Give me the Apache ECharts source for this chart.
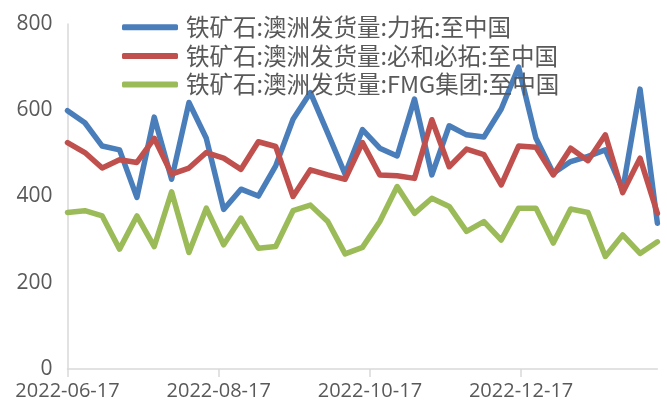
<!DOCTYPE html>
<html>
<head>
<meta charset="utf-8">
<script src="https://cdn.jsdelivr.net/npm/echarts@6/dist/echarts.min.js"></script>
<style>
  html, body { margin: 0; padding: 0; background: #fff; }
  #chart { width: 667px; height: 414px; }
</style>
</head>
<body>
<div id="chart"></div>
<script>
// 周度日期
const dates = [
  '2022-06-17', '2022-06-24', '2022-07-01', '2022-07-08', '2022-07-15', '2022-07-22', '2022-07-29',
  '2022-08-05', '2022-08-12', '2022-08-19', '2022-08-26', '2022-09-02', '2022-09-09', '2022-09-16',
  '2022-09-23', '2022-09-30', '2022-10-07', '2022-10-14', '2022-10-21', '2022-10-28', '2022-11-04',
  '2022-11-11', '2022-11-18', '2022-11-25', '2022-12-02', '2022-12-09', '2022-12-16', '2022-12-23',
  '2022-12-30', '2023-01-06', '2023-01-13', '2023-01-20', '2023-01-27', '2023-02-03', '2023-02-10'
]
const seriesNames = [
  '铁矿石:澳洲发货量:力拓:至中国',
  '铁矿石:澳洲发货量:必和必拓:至中国',
  '铁矿石:澳洲发货量:FMG集团:至中国'
]
const rioTinto = [599, 571, 517, 508, 398, 584, 440, 618, 535, 370, 417, 401, 471, 579, 641, 547, 452, 555,
  512, 494, 626, 450, 564, 543, 538, 603, 700, 535, 454, 481, 493, 508, 415, 649, 338]
const bhp = [525, 502, 466, 485, 479, 535, 452, 466, 502, 489, 463, 527, 516, 400, 462, 450, 440, 525,
  450, 448, 442, 578, 469, 510, 497, 427, 517, 514, 450, 512, 483, 543, 409, 489, 361]
const fmg = [363, 367, 355, 278, 355, 284, 411, 270, 373, 288, 350, 280, 284, 367, 380, 342, 267, 282,
  342, 423, 361, 396, 377, 319, 342, 299, 373, 373, 292, 371, 363, 261, 311, 268, 295]
// x轴标签，每两个月一个
const xTickLabels = ['2022-06-17', '2022-08-17', '2022-10-17', '2022-12-17']
const yTicks = [0, 200, 400, 600, 800]

const DAY = 86400000
const t0 = Date.parse(dates[0])
const dayOf = (d) => Math.round((Date.parse(d) - t0) / DAY)
const tickDays = xTickLabels.map(dayOf)
const lastDay = dayOf(dates[dates.length - 1])
const toPoints = (vals) => vals.map((v, i) => [dayOf(dates[i]), v])

const colors = ['#4a7ebb', '#c0504d', '#9bbb59']
const allValues = [rioTinto, bhp, fmg]

let chart = echarts.init(document.getElementById('chart'))
const option = {
  animation: false,
  color: colors,
  grid: {
    left: 67.5,
    right: 9.6,
    top: 24,
    bottom: 45,
  },
  legend: {
    orient: 'vertical',
    left: 117,
    top: 8,
    itemWidth: 56,
    itemHeight: 6,
    itemGap: 0,
    icon: 'roundRect',
    textStyle: {
      fontFamily: 'Noto Sans CJK SC',
      fontSize: 23.5,
      color: '#595959',
      lineHeight: 28.6,
      padding: [0, 0, 0, 3],
    },
    data: seriesNames,
  },
  xAxis: {
    type: 'value',
    min: 0,
    max: lastDay,
    splitLine: { show: false },
    axisLine: { show: true, lineStyle: { color: '#d9d9d9', width: 1.5 } },
    axisTick: {
      show: true,
      customValues: tickDays,
      length: 8,
      lineStyle: { color: '#d9d9d9', width: 1.5 },
    },
    axisLabel: {
      customValues: tickDays,
      formatter: (v) => xTickLabels[tickDays.indexOf(v)] || '',
      color: '#595959',
      fontFamily: 'Open Sans',
      fontSize: 20,
      margin: 12,
    },
  },
  yAxis: {
    type: 'value',
    min: yTicks[0],
    max: yTicks[yTicks.length - 1],
    interval: 200,
    splitLine: { show: false },
    axisLine: { show: true, lineStyle: { color: '#d9d9d9', width: 1.5 } },
    axisTick: { show: false },
    axisLabel: {
      color: '#595959',
      fontFamily: 'Open Sans',
      fontSize: 21,
      margin: 15,
    },
  },
  series: seriesNames.map((name, k) => ({
    name: name,
    type: 'line',
    data: toPoints(allValues[k]),
    showSymbol: false,
    symbol: 'none',
    lineStyle: { width: 5.5, color: colors[k], join: 'round', cap: 'round' },
  })),
}
chart.setOption(option)
</script>
</body>
</html>
